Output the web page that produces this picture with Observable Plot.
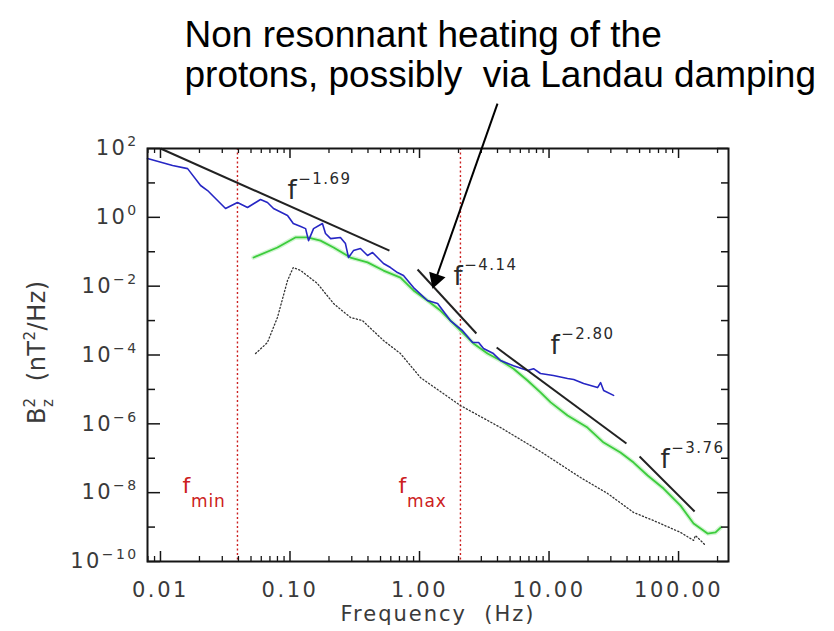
<!DOCTYPE html>
<html><head><meta charset="utf-8">
<script src="https://cdn.jsdelivr.net/npm/d3@7"></script>
<script src="https://cdn.jsdelivr.net/npm/@observablehq/plot@0.6"></script>
<style>
html,body{margin:0;padding:0;background:#fff;}
#chart svg{display:block;}
#chart svg text{white-space:pre;}
</style></head>
<body><div id="chart"></div>
<script>
// ---- data ----
const blueFreq = [0.00794, 0.0124, 0.0162, 0.0204, 0.0231, 0.0318, 0.0393, 0.0470, 0.0592, 0.0670, 0.0746, 0.0957, 0.106, 0.121, 0.132, 0.139, 0.152, 0.178, 0.188, 0.206, 0.245, 0.268, 0.283, 0.309, 0.350, 0.397, 0.434, 0.474, 0.527, 0.597, 0.676, 0.752, 0.899, 1.15, 1.38, 1.73, 2.15, 2.57, 2.86, 3.12, 3.72, 4.22, 5.32, 6.82, 7.59, 8.59, 10.8, 13.9, 15.5, 18.5, 23.7, 25.0, 26.4, 31.5];
const bluePower = [51, 32, 26, 8.4, 6.0, 1.80, 2.69, 1.93, 3.29, 2.69, 1.80, 1.13, 0.66, 0.54, 0.47, 0.21, 0.47, 0.66, 0.34, 0.24, 0.26, 0.173, 0.068, 0.108, 0.124, 0.078, 0.095, 0.068, 0.0455, 0.0348, 0.0249, 0.0204, 0.0091, 0.00383, 0.00313, 0.00100, 5.1e-4, 2.31e-4, 2.31e-4, 1.54e-4, 1.10e-4, 6.9e-5, 4.9e-5, 3.54e-5, 4.0e-5, 2.9e-5, 2.54e-5, 2.07e-5, 1.94e-5, 1.48e-5, 1.13e-5, 1.58e-5, 9.3e-6, 6.7e-6];

const greenFreq = [0.0523, 0.080, 0.110, 0.1365, 0.172, 0.217, 0.293, 0.397, 0.527, 0.713, 0.899, 1.15, 1.45, 1.83, 2.19, 2.61, 3.35, 4.22, 5.32, 6.82, 8.59, 10.3, 13.9, 19.8, 26.4, 35.6, 45.0, 57.7, 76.6, 103.5, 130.6, 147.9, 167.5, 193, 211];
const greenPower = [0.068, 0.133, 0.26, 0.26, 0.21, 0.133, 0.068, 0.049, 0.0284, 0.0178, 0.0075, 0.00383, 0.00196, 8.2e-4, 4.2e-4, 2.16e-4, 1.10e-4, 6.9e-5, 4.0e-5, 1.82e-5, 8.2e-6, 4.2e-6, 1.75e-6, 7.8e-7, 2.86e-7, 1.47e-7, 7.5e-8, 3.15e-8, 1.32e-8, 4.2e-9, 1.27e-9, 9.1e-10, 6.5e-10, 7.0e-10, 9.7e-10];

const dotFreq = [0.0542, 0.0670, 0.080, 0.0957, 0.106, 0.121, 0.163, 0.217, 0.293, 0.363, 0.397, 0.527, 0.713, 1.018, 2.07, 4.22, 8.59, 17.5, 28.3, 45.0, 64.1, 103.5, 130.6, 135, 153, 162];
const dotPower = [1.10e-4, 2.31e-4, 1.23e-3, 0.0146, 0.0348, 0.0284, 0.0119, 0.00313, 0.00123, 0.00100, 7.2e-4, 2.64e-4, 1.10e-4, 2.2e-5, 3.4e-6, 7.8e-7, 1.57e-7, 2.75e-8, 9.5e-9, 2.65e-9, 1.55e-9, 7.0e-10, 4.1e-10, 5.7e-10, 3.6e-10, 2.9e-10];

const fitExponent = ["\u22121.69", "\u22124.14", "\u22122.80", "\u22123.76"];
const fitF1 = [0.0100, 0.966, 3.94, 50];
const fitP1 = [100, 0.0304, 1.65e-4, 1.12e-7];
const fitF2 = [0.586, 2.75, 39.6, 133];
const fitP2 = [0.108, 4.2e-4, 2.68e-7, 2.84e-9];
const fitLabelF = [0.0957, 1.83, 10.27, 72.6];
const fitLabelP = [3.52, 0.01117, 1.10e-4, 5.04e-8];

const cutoffNames = ["min", "max"];
const cutoffFreq = [0.0393, 2.07];
const cutoffLabelF = [0.01479, 0.689];
const cutoffLabelP = [1.01e-8, 1.01e-8];

const xTicks = [0.01, 0.1, 1, 10, 100];
const xTickLabels = ["0.01", "0.10", "1.00", "10.00", "100.00"];
const yTicks = [1e-10, 1e-8, 1e-6, 1e-4, 1e-2, 1, 1e2];
const yTickExp = ["\u221210", "\u22128", "\u22126", "\u22124", "\u22122", "0", "2"];
const yMinorTicks = [1e-9, 1e-7, 1e-5, 1e-3, 1e-1, 10];

const annotationLines = ["Non resonnant heating of the", "protons, possibly  via Landau damping"];
const arrowStart = {f: 4.0, p: 2024};
const arrowHead = {f: 1.334, p: 0.0159};

const xTitle = "Frequency  (Hz)";
const yTitle = "B_{z}^{2}  (nT^{2}/Hz)";

// ---- derived tables ----
const blue = blueFreq.map((f, i) => ({f, p: bluePower[i]}));
const green = greenFreq.map((f, i) => ({f, p: greenPower[i]}));
const dotted = dotFreq.map((f, i) => ({f, p: dotPower[i]}));
const fits = fitExponent.map((e, i) => ({e, f1: fitF1[i], p1: fitP1[i], f2: fitF2[i], p2: fitP2[i], lf: fitLabelF[i], lp: fitLabelP[i]}));
const cutoffs = cutoffNames.map((n, i) => ({n, f: cutoffFreq[i], lf: cutoffLabelF[i], lp: cutoffLabelP[i]}));
const xMinor = [];
for (const d of [0.001, 0.01, 0.1, 1, 10, 100]) for (let k = 2; k <= 9; k++) {
  const v = d * k; if (v > 0.00794 && v < 243) xMinor.push(v);
}

const W = 834, H = 631, mL = 147, mR = 106, mT = 148, mB = 70;
const FW = W - mL - mR, FH = H - mT - mB;
const ink = "#151515";
const idl = "DejaVu Sans, Verdana, sans-serif";

const chart = Plot.plot({
  width: W, height: H,
  marginLeft: mL, marginRight: mR, marginTop: mT, marginBottom: mB,
  style: {background: "#fff", overflow: "visible"},
  x: {type: "log", domain: [0.00794, 243], axis: null},
  y: {type: "log", domain: [1e-10, 100], axis: null},
  marks: [
    Plot.ruleX(cutoffs, {x: "f", stroke: "#cc2020", strokeWidth: 1.4, strokeDasharray: "2,2.5"}),
    Plot.line(dotted, {x: "f", y: "p", stroke: "#333", strokeWidth: 1.3, strokeDasharray: "1.2,2.3"}),
    Plot.line(green, {x: "f", y: "p", stroke: "#d2f5d2", strokeWidth: 4.5}),
    Plot.line(green, {x: "f", y: "p", stroke: "#3ccc3c", strokeWidth: 1.8}),
    Plot.line(blue, {x: "f", y: "p", stroke: "#2626c4", strokeWidth: 1.6}),
    Plot.link(fits, {x1: "f1", y1: "p1", x2: "f2", y2: "p2", stroke: "#222", strokeWidth: 2}),
    Plot.text(fits, {x: "lf", y: "lp", text: d => "f^{" + d.e + "}", textAnchor: "start", lineAnchor: "bottom", fontSize: 26, fontFamily: idl, fill: "#2a2a2a"}),
    Plot.text(cutoffs, {x: "lf", y: "lp", text: d => "f_{" + d.n + "}", textAnchor: "start", lineAnchor: "bottom", fontSize: 22, fontFamily: idl, fill: "#cc2020"}),
    // ticks (inward) on all four sides
    Plot.ruleX(xTicks, {x: d => d, insetTop: FH - 10, stroke: ink, strokeWidth: 1.5}),
    Plot.ruleX(xMinor, {x: d => d, insetTop: FH - 5, stroke: ink, strokeWidth: 1.3}),
    Plot.ruleX(xTicks, {x: d => d, insetBottom: FH - 10, stroke: ink, strokeWidth: 1.5}),
    Plot.ruleX(xMinor, {x: d => d, insetBottom: FH - 5, stroke: ink, strokeWidth: 1.3}),
    Plot.ruleY(yTicks, {y: d => d, insetRight: FW - 13, stroke: ink, strokeWidth: 1.5}),
    Plot.ruleY(yMinorTicks, {y: d => d, insetRight: FW - 8, stroke: ink, strokeWidth: 1.5}),
    Plot.ruleY(yTicks, {y: d => d, insetLeft: FW - 11, stroke: ink, strokeWidth: 1.5}),
    Plot.ruleY(yMinorTicks, {y: d => d, insetLeft: FW - 7, stroke: ink, strokeWidth: 1.5}),
    Plot.frame({stroke: ink, strokeWidth: 2}),
    // tick labels
    Plot.text(xTicks, {x: d => d, text: (d, i) => xTickLabels[i], frameAnchor: "bottom", dy: 35, fontSize: 21, fontFamily: idl, fill: "#3a3a3a"}),
    Plot.text(yTicks, {y: d => d, text: (d, i) => "10^{" + yTickExp[i] + "}", frameAnchor: "left", dx: -9, textAnchor: "end", fontSize: 21, fontFamily: idl, fill: "#3a3a3a"}),
    // axis titles
    Plot.text([xTitle], {text: d => d, frameAnchor: "bottom", dy: 59, fontSize: 21, fontFamily: idl, fill: "#3a3a3a"}),
    Plot.text([yTitle], {text: d => d, frameAnchor: "left", dx: -110, dy: 69, rotate: -90, textAnchor: "start", fontSize: 24, fontFamily: idl, fill: "#3a3a3a"}),
    // annotation
    Plot.text([annotationLines.join("\n")], {text: d => d, frameAnchor: "top-left", dx: 37, dy: -130, textAnchor: "start", lineAnchor: "top", lineHeight: 1.08, fontSize: 37, fontFamily: "Liberation Sans, Arial, sans-serif", fill: "#000"}),
    Plot.link([{a: arrowStart, b: arrowHead}], {x1: d => d.a.f, y1: d => d.a.p, x2: d => d.b.f, y2: d => d.b.p, stroke: "#000", strokeWidth: 2}),
    Plot.dot([arrowHead], {x: "f", y: "p", symbol: "triangle", r: 6.4, fill: "#000", stroke: "none", rotate: 199})
  ]
});
document.getElementById("chart").appendChild(chart);

// ---- rich text (superscripts / subscripts) ----
const RICH = [
  {key: "10^", supSize: 14, supShift: 9, spacing: 2.4},
  {key: "f^", supSize: 15, supShift: 15, spacing: 1.5},
  {key: "f_", subSize: 17, subShift: 14, spacing: 0.8},
  {key: "B_", subSize: 15, subShift: 8, supSize: 15, supShift: 10, spacing: 0.5}
];
const NS = "http://www.w3.org/2000/svg";
for (const t of chart.querySelectorAll("text")) {
  if (t.querySelector("tspan")) continue;
  const s = t.textContent;
  if (/^[\d.]+$/.test(s)) { t.style.letterSpacing = "2.6px"; continue; }
  if (s.startsWith("Frequency")) { t.style.letterSpacing = "2px"; continue; }
  const cfg = RICH.find(c => s.startsWith(c.key));
  if (!cfg) continue;
  const tokens = [];
  const re = /([\^_])\{([^}]*)\}/g;
  let last = 0, m;
  while ((m = re.exec(s))) {
    if (m.index > last) tokens.push({kind: "n", text: s.slice(last, m.index)});
    tokens.push({kind: m[1] === "^" ? "sup" : "sub", text: m[2]});
    last = re.lastIndex;
  }
  if (last < s.length) tokens.push({kind: "n", text: s.slice(last)});
  t.textContent = "";
  t.style.letterSpacing = cfg.spacing + "px";
  let shift = 0, prev = null;
  for (const tk of tokens) {
    const ts = document.createElementNS(NS, "tspan");
    ts.textContent = tk.text;
    let target = 0;
    if (tk.kind === "sup") { target = -cfg.supShift; ts.setAttribute("font-size", cfg.supSize); }
    else if (tk.kind === "sub") { target = cfg.subShift; ts.setAttribute("font-size", cfg.subSize); }
    if (target !== shift) ts.setAttribute("dy", target - shift);
    shift = target;
    t.appendChild(ts);
    if (tk.kind === "sup" && prev && prev.kind === "sub") {
      ts.setAttribute("dx", -prev.el.getComputedTextLength() - cfg.spacing);
    }
    prev = {kind: tk.kind, el: ts};
  }
}
</script>
</body></html>
